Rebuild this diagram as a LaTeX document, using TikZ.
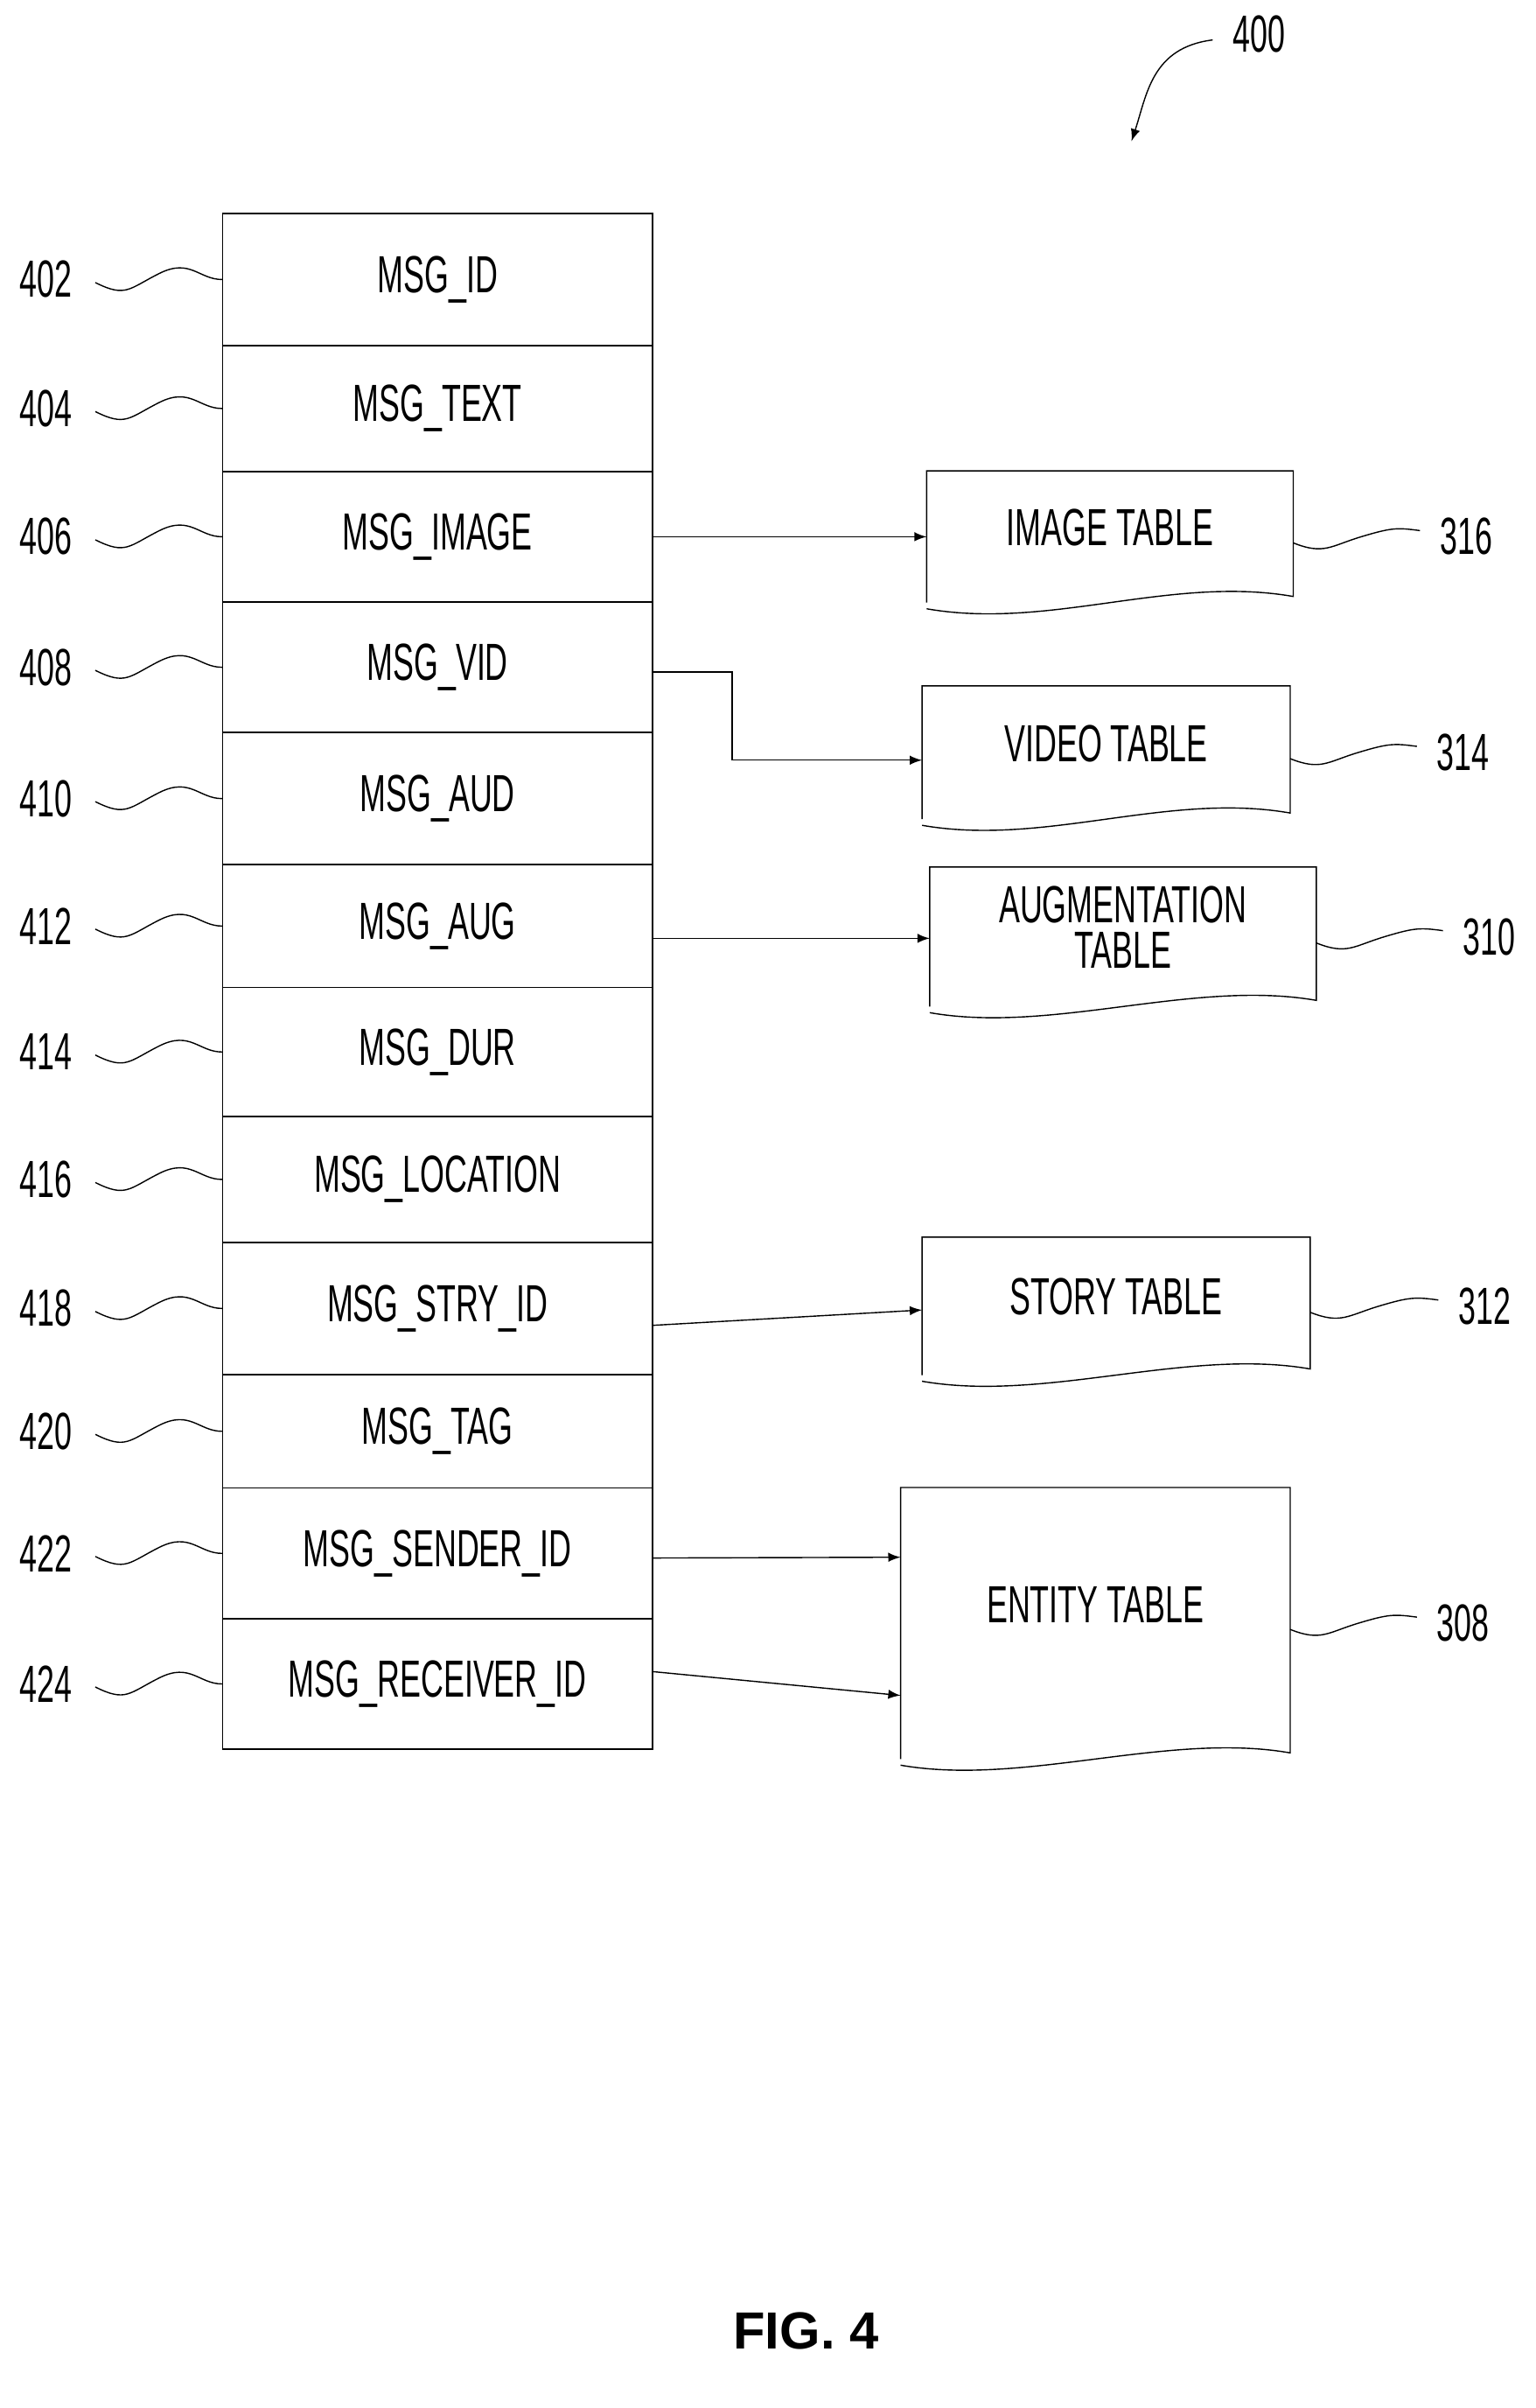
\documentclass[tikz,border=0pt]{standalone}
\usepackage{fontspec}
\setmainfont{Liberation Sans}
\usepackage{tikz}
\usetikzlibrary{arrows,calc}
\newcommand{\cnd}[1]{\scalebox{.6}[1]{#1}}

\begin{document}
\begin{tikzpicture}[x=0.01756cm,y=-0.01756cm,>=latex,thin,
    every node/.style={font=\fontsize{17}{20}\selectfont},
    field/.style={draw,rectangle,minimum width=4.917cm,inner sep=0pt},
    doc/.style={rectangle,inner sep=0pt},
    refnum/.style={anchor=center},
    squig/.style={-}]
  \useasboundingbox (0,0) rectangle (1000,1568);
  % message fields
  \foreach \nm/\ya/\yb/\txt/\num in {
      id/139/225/MSG\_ID/402, text/225/307/MSG\_TEXT/404,
      image/307/392/MSG\_IMAGE/406, vid/392/477/MSG\_VID/408,
      aud/477/563/MSG\_AUD/410, aug/563/643/MSG\_AUG/412,
      dur/643/727/MSG\_DUR/414, loc/727/809/MSG\_LOCATION/416,
      stry/809/895/MSG\_STRY\_ID/418, tag/895/969/MSG\_TAG/420,
      sender/969/1054/MSG\_SENDER\_ID/422, receiver/1054/1139/MSG\_RECEIVER\_ID/424}{
    \pgfmathsetmacro{\ctr}{(\ya+\yb)/2}
    \pgfmathsetmacro{\hgt}{(\yb-\ya)*0.01756}
    \node[field,minimum height=\hgt cm] (\nm) at (285,\ctr) {\cnd{\txt}};
    \node[refnum] (n\nm) at (30,\ctr) {\cnd{\num}};
    \draw[squig] ($(n\nm.east)+(8,2)$) .. controls +(20,10) and +(-20,10) .. ($(n\nm.east)!.55!(\nm.west)+(0,-4)$)
      .. controls +(20,-10) and +(-15,0) .. (\nm.west);
  }
  % tables
  \foreach \nm/\xa/\ya/\xb/\yb/\txt/\num/\nx in {
      imgt/604/307/842/392/IMAGE TABLE/316/955,
      vidt/601/447/840/533/VIDEO TABLE/314/953,
      augt/606/565/857/655/AUGMENTATION\\TABLE/310/970,
      stryt/601/806/853/895/STORY TABLE/312/967,
      entt/587/969/840/1145/ENTITY TABLE/308/953}{
    \pgfmathsetmacro{\bxw}{(\xb-\xa)*0.01756}
    \pgfmathsetmacro{\hgt}{(\yb-\ya)*0.01756}
    \pgfmathsetmacro{\dy}{(\yb-\ya)*0.07}
    \node[doc,minimum width=\bxw cm,minimum height=\hgt cm] (\nm) at ({(\xa+\xb)/2},{(\ya+\yb)/2}) {};
    \node[align=center,anchor=center] at ($(\nm.center)+(0,-\dy)$) {\cnd{\shortstack{\txt}}};
    \draw (\nm.south west) -- (\nm.north west) -- (\nm.north east) -- ($(\nm.south east)+(0,-4)$)
      .. controls +(-80,-14) and +(80,14) .. ($(\nm.south west)+(0,4)$);
    \node[refnum] (n\nm) at (\nx,{(\ya+\yb)/2}) {\cnd{\num}};
    \draw[squig] ($(\nm.east)+(0,4)$) .. controls +(20,8) and +(-20,6) .. ($(\nm.east)!.5!(n\nm.west)$)
      .. controls +(20,-6) and +(-15,-2) .. ($(n\nm.west)+(-6,-4)$);
  }
  % links
  \draw[->] (image.east) -- (imgt.west |- image.east);
  \draw[->] ($(vid.east)+(0,3)$) -| (477,495) -- (vidt.west |- 0,495);
  \draw[->] ($(aug.east)+(0,8)$) -- (augt.west |- 0,611);
  \draw[->] ($(stry.east)+(0,11)$) -- (stryt.west |- 0,853);
  \draw[->] ($(sender.east)+(0,3)$) -- (entt.west |- 0,1014);
  \draw[->] ($(receiver.east)+(0,-8)$) -- (entt.west |- 0,1104);
  % figure number
  \node (fig) at (820,22) {\cnd{400}};
  \draw[->] ($(fig.west)+(-6,4)$) .. controls +(-40,5) and +(10,-30) .. (737,92);
  \node[font=\fontsize{17}{20}\selectfont\bfseries] (cap) at (525,1518) {FIG. 4};
\end{tikzpicture}
\end{document}
